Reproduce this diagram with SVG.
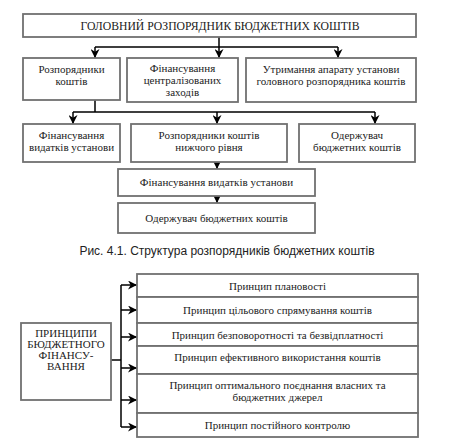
<svg xmlns="http://www.w3.org/2000/svg" width="450" height="444" viewBox="0 0 450 444" font-family="'Liberation Serif', 'DejaVu Serif', serif">
<style>
.b{fill:#fff;stroke:#707070;stroke-width:1.8}
text.t{font-family:'Liberation Serif','DejaVu Serif',serif;font-size:11px;fill:#222;text-anchor:middle}
text.big{font-size:11.7px}
.c{fill:none;stroke:#000;stroke-width:1.5}
text.cap{font-family:'Liberation Sans',Arial,sans-serif;font-size:12px;fill:#222;text-anchor:middle}
</style>
<defs>
<marker id="ad" viewBox="0 0 10 10" refX="10" refY="5" markerWidth="9" markerHeight="9" markerUnits="userSpaceOnUse" orient="auto">
<path d="M0,0 L10,5 L0,10 L3,5 z" fill="#000"/>
</marker>
</defs>
<rect width="450" height="444" fill="#fff"/>
<g id="connectors">
<path class="c" d="M219,37 V47 M95,47 H338"/>
<path class="c" d="M95,47 V58" marker-end="url(#ad)"/>
<path class="c" d="M219,47 V58" marker-end="url(#ad)"/>
<path class="c" d="M338,47 V58" marker-end="url(#ad)"/>
<path class="c" d="M95,100 V112 M73,112 H375"/>
<path class="c" d="M73,112 V124" marker-end="url(#ad)"/>
<path class="c" d="M217,112 V124" marker-end="url(#ad)"/>
<path class="c" d="M375,112 V124" marker-end="url(#ad)"/>
<path class="c" d="M217,162 V169" marker-end="url(#ad)"/>
<path class="c" d="M217,196 V203" marker-end="url(#ad)"/>
<path class="c" d="M111,360 H121 M121,285 V427"/>
<path class="c" d="M121,285 H137" marker-end="url(#ad)"/>
<path class="c" d="M121,310 H137" marker-end="url(#ad)"/>
<path class="c" d="M121,337 H137" marker-end="url(#ad)"/>
<path class="c" d="M121,368 H137" marker-end="url(#ad)"/>
<path class="c" d="M121,400 H137" marker-end="url(#ad)"/>
<path class="c" d="M121,427 H137" marker-end="url(#ad)"/>
</g>
<g id="n-top"><rect class="b" x="23" y="14" width="393" height="23"/><text class="t big" x="220" y="29.5">ГОЛОВНИЙ РОЗПОРЯДНИК БЮДЖЕТНИХ КОШТІВ</text></g>
<g id="n-a"><rect class="b" x="23" y="58" width="97" height="42"/><text class="t" x="71.5" y="73">Розпорядники</text><text class="t" x="71.5" y="85">коштів</text></g>
<g id="n-b"><rect class="b" x="127" y="58" width="111" height="44"/><text class="t" x="182.5" y="72">Фінансування</text><text class="t" x="182.5" y="84">централізованих</text><text class="t" x="182.5" y="96">заходів</text></g>
<g id="n-c"><rect class="b" x="246" y="58" width="170" height="44"/><text class="t" x="331" y="73">Утримання апарату установи</text><text class="t" x="331" y="85">головного розпорядника коштів</text></g>
<g id="n-d"><rect class="b" x="23" y="124" width="97" height="38"/><text class="t" x="71.5" y="139">Фінансування</text><text class="t" x="71.5" y="151">видатків установи</text></g>
<g id="n-e"><rect class="b" x="131" y="124" width="156" height="38"/><text class="t" x="209" y="139">Розпорядники коштів</text><text class="t" x="209" y="151">нижчого рівня</text></g>
<g id="n-f"><rect class="b" x="299" y="124" width="116" height="38"/><text class="t" x="357" y="139">Одержувач</text><text class="t" x="357" y="151">бюджетних коштів</text></g>
<g id="n-g"><rect class="b" x="118" y="169" width="197" height="27"/><text class="t" x="216.5" y="186">Фінансування видатків установи</text></g>
<g id="n-h"><rect class="b" x="118" y="203" width="197" height="30"/><text class="t" x="216.5" y="222">Одержувач бюджетних коштів</text></g>
<text class="cap" x="227" y="255">Рис. 4.1. Структура розпорядників бюджетних коштів</text>
<g id="n-left"><rect class="b" x="21" y="323" width="90" height="77"/><text class="t" x="66" y="337">ПРИНЦИПИ</text><text class="t" x="66" y="348">БЮДЖЕТНОГО</text><text class="t" x="66" y="359">ФІНАНСУ-</text><text class="t" x="66" y="370">ВАННЯ</text></g>
<g id="n-p1"><rect class="b" x="137" y="274" width="281" height="23"/><text class="t" x="277.5" y="289.5">Принцип плановості</text></g>
<g id="n-p2"><rect class="b" x="137" y="297" width="281" height="26"/><text class="t" x="277.5" y="314">Принцип цільового спрямування коштів</text></g>
<g id="n-p3"><rect class="b" x="137" y="323" width="281" height="23"/><text class="t" x="277.5" y="338.5">Принцип безповоротності та безвідплатності</text></g>
<g id="n-p4"><rect class="b" x="137" y="346" width="281" height="28"/><text class="t" x="277.5" y="361">Принцип ефективного використання коштів</text></g>
<g id="n-p5"><rect class="b" x="137" y="374" width="281" height="39"/><text class="t" x="277.5" y="389">Принцип оптимального поєднання власних та</text><text class="t" x="277.5" y="401">бюджетних джерел</text></g>
<g id="n-p6"><rect class="b" x="137" y="413" width="281" height="24"/><text class="t" x="277.5" y="429">Принцип постійного контролю</text></g>
</svg>
